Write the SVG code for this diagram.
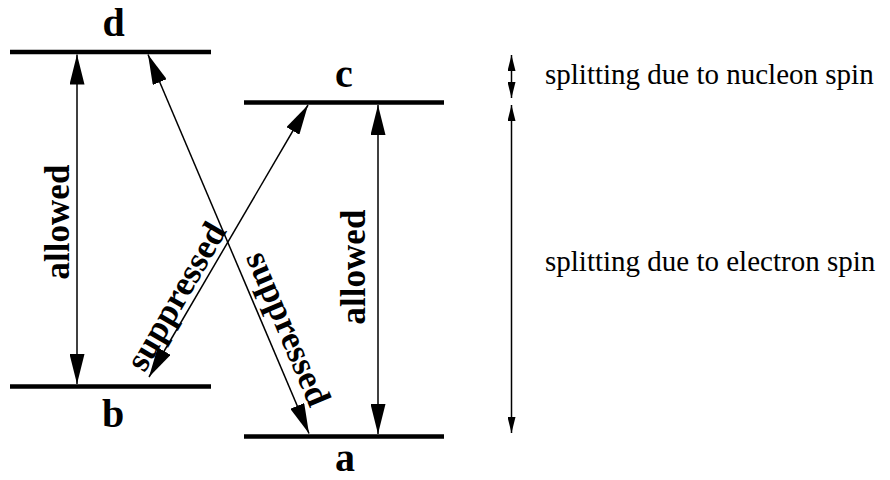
<svg xmlns="http://www.w3.org/2000/svg" width="890" height="480" viewBox="0 0 890 480">
  <style>
    .bar { stroke: #000; stroke-width: 4.5; fill: none; }
    .lbl { font-family: "Liberation Serif", "Times New Roman", serif; font-weight: bold; font-size: 40px; fill: #000; text-anchor: middle; }
    .tr { font-family: "Liberation Serif", "Times New Roman", serif; font-weight: bold; font-size: 35px; fill: #000; text-anchor: middle; }
    .note { font-family: "Liberation Serif", "Times New Roman", serif; font-size: 29px; fill: #000; }
    .arr { stroke: #000; stroke-width: 1.5; fill: none; marker-start: url(#big); marker-end: url(#big); }
    .sarr { stroke: #000; stroke-width: 1.5; fill: none; marker-start: url(#small); marker-end: url(#small); }
  </style>
  <defs>
    <marker id="big" viewBox="0 0 30 15" refX="30" refY="7.5" markerWidth="30" markerHeight="15" markerUnits="userSpaceOnUse" orient="auto-start-reverse">
      <path d="M0,0 L30,7.5 L0,15 z" fill="#000"/>
    </marker>
    <marker id="small" viewBox="0 0 16 8" refX="16" refY="4" markerWidth="16" markerHeight="8" markerUnits="userSpaceOnUse" orient="auto-start-reverse">
      <path d="M0,0 L16,4 L0,8 z" fill="#000"/>
    </marker>
  </defs>

  <g id="level-d">
    <line class="bar" x1="10" y1="52" x2="211" y2="52"/>
    <text class="lbl" x="113.5" y="36">d</text>
  </g>
  <g id="level-c">
    <line class="bar" x1="244" y1="102.5" x2="444" y2="102.5"/>
    <text class="lbl" x="344" y="87">c</text>
  </g>
  <g id="level-b">
    <line class="bar" x1="10" y1="386.5" x2="211" y2="386.5"/>
    <text class="lbl" x="113" y="427">b</text>
  </g>
  <g id="level-a">
    <line class="bar" x1="244" y1="436.5" x2="444" y2="436.5"/>
    <text class="lbl" x="345" y="471">a</text>
  </g>

  <g id="connectors">
    <line class="arr" x1="77" y1="54.5" x2="77" y2="384"/>
    <line class="arr" x1="378" y1="105" x2="378" y2="434"/>
    <line class="arr" x1="308" y1="105" x2="149" y2="377"/>
    <line class="arr" x1="148" y1="54.5" x2="309" y2="433.5"/>
    <line class="sarr" x1="511.5" y1="55" x2="511.5" y2="98"/>
    <line class="sarr" x1="511.5" y1="105" x2="511.5" y2="433"/>
  </g>

  <g id="labels">
    <text class="tr" x="69" y="222" transform="rotate(-90 69 222)">allowed</text>
    <text class="tr" x="365" y="267" transform="rotate(-90 365 267)">allowed</text>
    <text class="tr" x="186" y="302" transform="rotate(-59.8 186 302)">suppressed</text>
    <text class="tr" x="278" y="333" transform="rotate(67 278 333)">suppressed</text>
    <text class="note" x="545" y="84">splitting due to nucleon spin</text>
    <text class="note" x="545" y="271">splitting due to electron spin</text>
  </g>
</svg>
